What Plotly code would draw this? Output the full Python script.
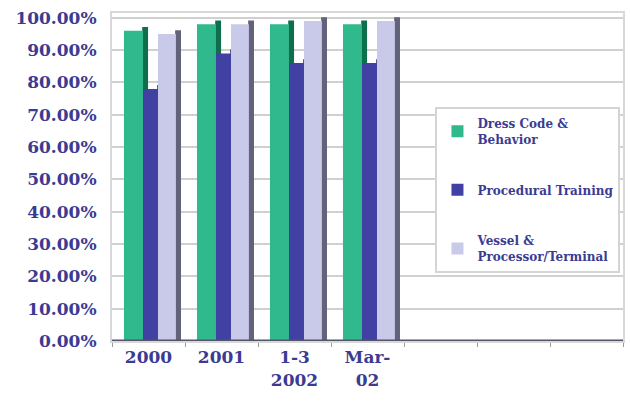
import plotly.graph_objects as go

# Category labels (seven slots on the axis, four with data)
categories = ["2000", "2001", "1-3<br>2002", "Mar-<br>02"]
n_slots = 7

series_names = ["Dress Code &<br>Behavior", "Procedural Training", "Vessel &<br>Processor/Terminal"]
dress_code = [96, 98, 98, 98]
procedural = [78, 89, 86, 86]
vessel = [95, 98, 99, 99]

y_ticks = list(range(0, 101, 10))
y_tick_text = [f"{v:.2f}%" for v in y_ticks]

front_colors = ["#2fb98c", "#4141a3", "#c9c9ea"]
side_colors = ["#0f6e4c", "#23235f", "#62627a"]
offsets = [-0.336, -0.075, 0.13]
widths = [0.26, 0.205, 0.245]

text_color = "#3b3b92"
font_family = "DejaVu Serif"

x_pos = list(range(len(categories)))
values = [dress_code, procedural, vessel]

fig = go.Figure()

# side faces (depth) drawn first so fronts sit on top
for i, vals in enumerate(values):
    fig.add_trace(go.Bar(
        x=x_pos, y=[v + 1.2 for v in vals],
        offset=offsets[i] + widths[i] - 0.01, width=0.08,
        marker=dict(color=side_colors[i], line=dict(width=0)),
        showlegend=False, hoverinfo="skip",
    ))

for i, vals in enumerate(values):
    fig.add_trace(go.Bar(
        x=x_pos, y=vals, name=series_names[i],
        offset=offsets[i], width=widths[i],
        marker=dict(color=front_colors[i], line=dict(width=0)),
        legendgroup=f"g{i}",
    ))

# floor edge
fig.add_shape(type="line", xref="x", yref="y", x0=-0.5, x1=n_slots - 0.5, y0=0, y1=0,
              line=dict(color="#55556a", width=3), layer="above")

fig.update_layout(
    width=630, height=403,
    margin=dict(l=112, r=5, t=13, b=62),
    paper_bgcolor="white", plot_bgcolor="white",
    barmode="overlay",
    font=dict(family=font_family, color=text_color),
    showlegend=True,
    legend=dict(
        x=0.633, y=0.713, xanchor="left", yanchor="top",
        bgcolor="white", bordercolor="#d4d4d4", borderwidth=2,
        font=dict(family=font_family, size=12, color=text_color, weight="bold"),
        tracegroupgap=32, itemwidth=30,
    ),
    xaxis=dict(
        range=[-0.5, n_slots - 0.5],
        tickvals=x_pos, ticktext=categories,
        tickfont=dict(family=font_family, size=17, color=text_color, weight="bold"),
        showgrid=False, zeroline=False, showline=True, linecolor="#d8d8d8", linewidth=2, mirror=True,
        ticks="", ticklabelstandoff=0,
        minor=dict(tick0=0.5, dtick=1, ticks="outside", ticklen=4, tickcolor="#9a9a9a", showgrid=False),
    ),
    yaxis=dict(
        range=[0, 101.5],
        tickvals=y_ticks, ticktext=y_tick_text,
        tickfont=dict(family=font_family, size=17, color=text_color, weight="bold"),
        showgrid=True, gridcolor="#d0d0d0", gridwidth=2,
        zeroline=False, showline=True, linecolor="#d8d8d8", linewidth=2, mirror=True,
        ticks="", ticklabelstandoff=10,
    ),
)

fig.write_html("out.html")
